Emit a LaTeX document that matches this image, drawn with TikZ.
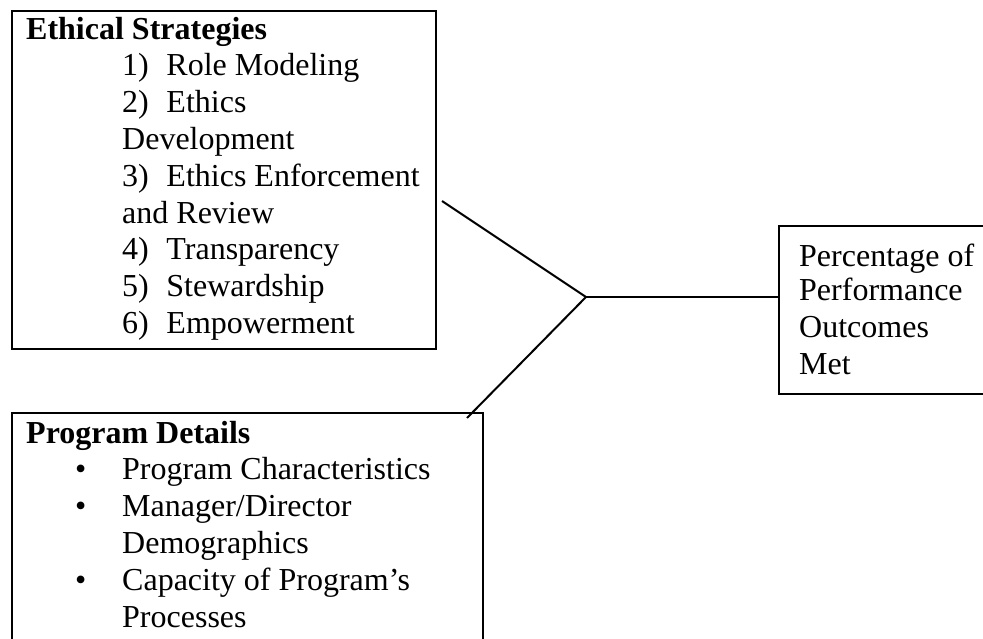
\documentclass[tikz,border=0pt]{standalone}
\usepackage{fontspec}
\setmainfont{Liberation Serif}
\begin{document}
\begin{tikzpicture}[x=1pt,y=-1pt,
  boxstyle/.style={draw=black,line width=2pt,rectangle,inner sep=0pt,anchor=north west},
  txt/.style={anchor=base west,inner sep=0pt,font=\fontsize{32}{36.7}\selectfont},
  conn/.style={draw=black,line width=2pt}]
\useasboundingbox (0,0) rectangle (983,639);
% boxes
\node[boxstyle,minimum width=424pt,minimum height=338pt] (ethics) at (11,10) {};
\node[boxstyle,minimum width=471pt,minimum height=240pt] (program) at (11,412) {};
\node[boxstyle,minimum width=220pt,minimum height=168pt] (outcome) at (778,225) {};
% ethics text
\node[txt,font=\fontsize{32}{36.7}\selectfont\bfseries] (t0) at (26,40) {Ethical Strategies};
\node[txt] (t1) at (122,76) {1)\hspace{0.55em}Role Modeling};
\node[txt] (t2) at (122,113) {2)\hspace{0.55em}Ethics};
\node[txt] (t3) at (122,150) {Development};
\node[txt] (t4) at (122,187) {3)\hspace{0.55em}Ethics Enforcement};
\node[txt] (t5) at (122,224) {and Review};
\node[txt] (t6) at (122,260) {4)\hspace{0.55em}Transparency};
\node[txt] (t7) at (122,297) {5)\hspace{0.55em}Stewardship};
\node[txt] (t8) at (122,333) {6)\hspace{0.55em}Empowerment};
% program text
\node[txt,font=\fontsize{32}{36.7}\selectfont\bfseries] (p0) at (26,443) {Program Details};
\node[txt] (b1) at (75,479) {•};
\node[txt] (p1) at (122,479) {Program Characteristics};
\node[txt] (b2) at (75,516) {•};
\node[txt] (p2) at (122,516) {Manager/Director};
\node[txt] (p3) at (122,553) {Demographics};
\node[txt] (b3) at (75,590) {•};
\node[txt] (p4) at (122,590) {Capacity of Program’s};
\node[txt] (p5) at (122,627) {Processes};
% outcome text
\node[txt] (o1) at (799,266) {Percentage of};
\node[txt] (o2) at (799,301) {Performance};
\node[txt] (o3) at (799,337) {Outcomes};
\node[txt] (o4) at (799,374) {Met};
% connectors
\coordinate (J) at (586,297);
\coordinate (eEnd) at (442,201);
\coordinate (pEnd) at (467,418);
\draw[conn] (eEnd) -- (J);
\draw[conn] (pEnd) -- (J);
\draw[conn] (J) -- (J -| outcome.west);
\end{tikzpicture}
\end{document}
